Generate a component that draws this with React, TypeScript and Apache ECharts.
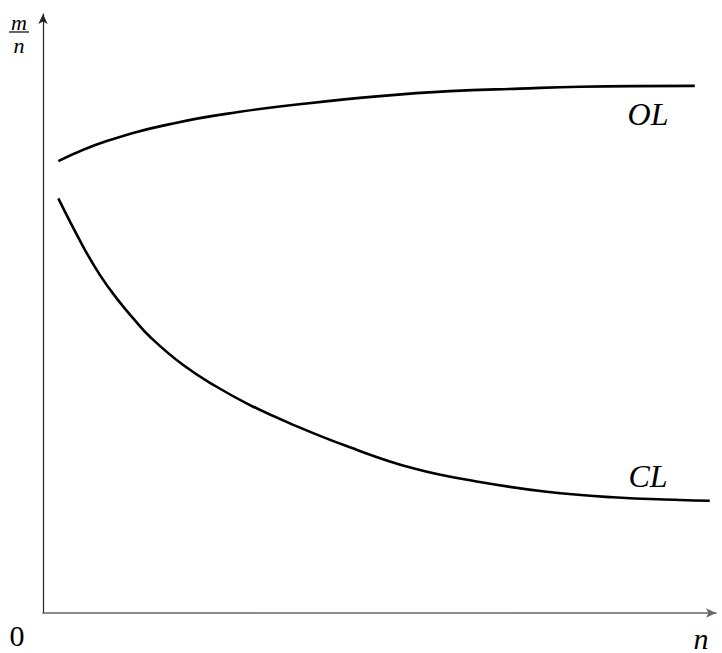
import React, { useEffect, useRef } from "react";
import * as echarts from "echarts";

// n values (x, arbitrary units) and m/n values (y, arbitrary units)
const olN = [2.26, 9.4, 19.22, 29.06, 38.89, 49.7, 60.03, 70.35, 79.2, 96.17];
const olRatio = [74.83, 78.15, 81.08, 83.0, 84.39, 85.6, 86.42, 86.84, 87.14, 87.3];
const clN = [2.26, 5.94, 8.41, 10.87, 13.32, 15.78, 20.69, 25.62, 30.53, 36.43, 44.79, 54.62, 64.45, 74.29, 84.12, 93.95, 98.38];
const clRatio = [68.66, 60.65, 55.96, 52.1, 48.79, 45.75, 41.06, 37.47, 34.44, 31.41, 27.65, 23.96, 21.69, 20.08, 19.16, 18.71, 18.59];
const seriesNames = ["OL", "CL"];

const SERIF = "Liberation Serif";

function txt(text: string, x: number, y: number, size: number, italic: boolean) {
  return {
    type: "text",
    x,
    y,
    style: {
      text,
      fontFamily: SERIF,
      fontSize: size,
      fontStyle: italic ? "italic" : "normal",
      fill: "#000",
      align: "center",
      verticalAlign: "middle",
    },
  };
}

export default function App() {
  const ref = useRef<HTMLDivElement>(null);
  useEffect(() => {
    if (!ref.current) return;
    const chart = echarts.init(ref.current, null, { renderer: "svg" });
    const base = {
      type: "value" as const,
      min: 0,
      axisLabel: { show: false },
      axisTick: { show: false },
      splitLine: { show: false },
    };
    chart.setOption({
      animation: false,
      backgroundColor: "#ffffff",
      grid: { left: 43, right: 6, top: 14, bottom: 40, containLabel: false },
      xAxis: {
        ...base,
        max: 99.3,
        axisLine: {
          show: true,
          symbol: ["none", "arrow"],
          symbolSize: [7, 10],
          lineStyle: { width: 1.6, color: "#666" },
        },
      },
      yAxis: {
        ...base,
        max: 99.2,
        axisLine: {
          show: true,
          symbol: ["none", "arrow"],
          symbolSize: [7, 10],
          lineStyle: { width: 1.2, color: "#222" },
        },
      },
      series: [
        {
          name: seriesNames[0],
          type: "line",
          smooth: 0.45,
          showSymbol: false,
          lineStyle: { color: "#000", width: 2.6 },
          data: olN.map((n, i) => [n, olRatio[i]]),
        },
        {
          name: seriesNames[1],
          type: "line",
          smooth: 0.45,
          showSymbol: false,
          lineStyle: { color: "#000", width: 2.6 },
          data: clN.map((n, i) => [n, clRatio[i]]),
        },
      ],
      graphic: [
        txt(seriesNames[0], 648, 114, 32, true),
        txt(seriesNames[1], 648, 476, 32, true),
        txt("0", 17, 635, 30, false),
        txt("n", 701, 638, 30, true),
        txt("m", 19, 22, 22, true),
        {
          type: "line",
          shape: { x1: 9, y1: 32, x2: 29, y2: 32 },
          style: { stroke: "#000", lineWidth: 1.2 },
        },
        txt("n", 19, 45, 22, true),
      ],
    });
    return () => chart.dispose();
  }, []);
  return (
    <div
      ref={ref}
      style={{ position: "absolute", left: 0, top: 0, width: 722, height: 653 }}
    />
  );
}
